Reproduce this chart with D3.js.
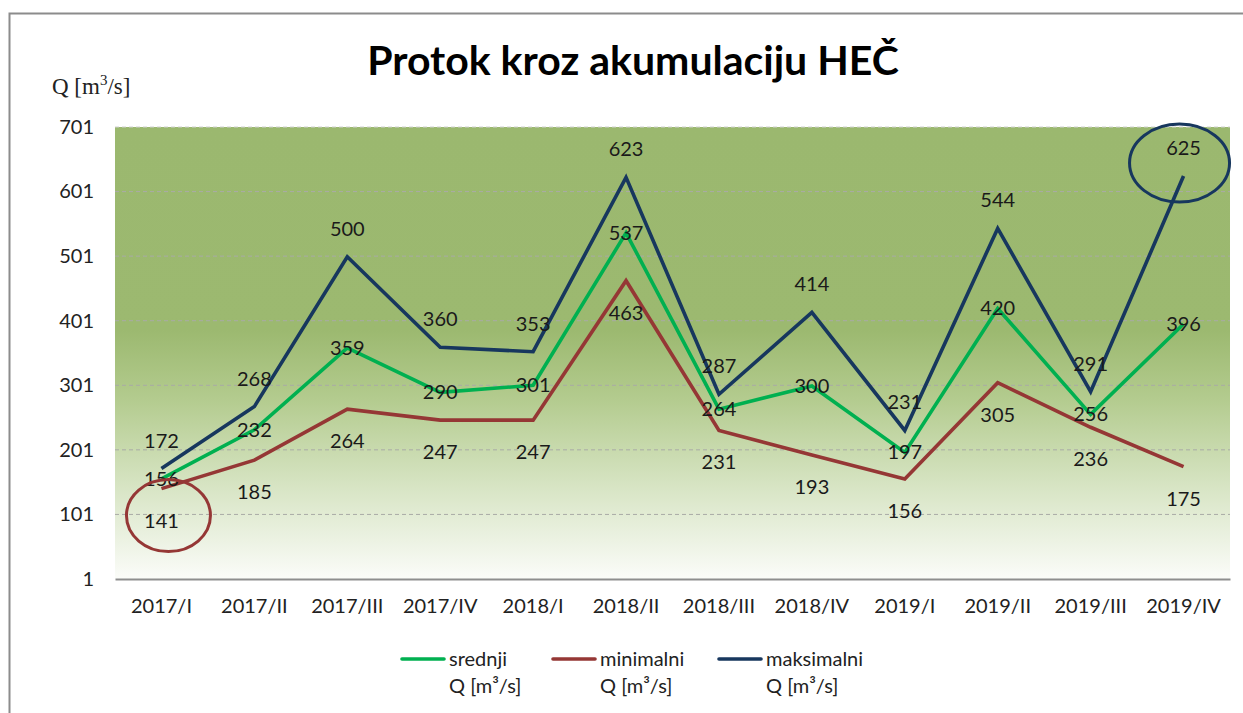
<!DOCTYPE html>
<html><head><meta charset="utf-8">
<script src="https://cdn.jsdelivr.net/npm/d3@7"></script>
<style>
html,body{margin:0;padding:0;background:#fff;}
svg{display:block;}
</style></head>
<body>
<svg id="chart" width="1243" height="713"></svg>
<script>
const categories = ["2017/I","2017/II","2017/III","2017/IV","2018/I","2018/II","2018/III","2018/IV","2019/I","2019/II","2019/III","2019/IV"];
const srednji = [156,232,359,290,301,537,264,300,197,420,256,396];
const minimalni = [141,185,264,247,247,463,231,193,156,305,236,175];
const maksimalni = [172,268,500,360,353,623,287,414,231,544,291,625];
const yTicks = [1,101,201,301,401,501,601,701];
const seriesNames = ["srednji","minimalni","maksimalni"];
const seriesColors = ["#00B050","#953735","#17375E"];

const svg = d3.select("#chart");
const font = "Lato, 'Open Sans', sans-serif";
const margin = {left:115, right:13, top:127, bottom:134};
const W = 1243, H = 713;

// chart border
svg.append("path").attr("d","M9.5,713 L9.5,13.5 L1243,13.5").attr("fill","none").attr("stroke","#8c8c8c").attr("stroke-width",2);

const x = d3.scaleBand().domain(categories).range([margin.left, W - margin.right]);
const y = d3.scaleLinear().domain([1,701]).range([H - margin.bottom, margin.top]);
const y0 = y(1), y1 = y(701);

// gradient background
const defs = svg.append("defs");
const grad = defs.append("linearGradient").attr("id","bg").attr("x1",0).attr("x2",0).attr("y1",0).attr("y2",1);
[[0,"#9BB86F"],[0.45,"#9CB970"],[0.6,"#b3cb8e"],[0.8,"#d8e5c5"],[1,"#fbfcf9"]].forEach(s=>grad.append("stop").attr("offset",s[0]).attr("stop-color",s[1]));
svg.append("rect").attr("x",x.range()[0]).attr("y",y1).attr("width",x.range()[1]-x.range()[0]).attr("height",y0-y1).attr("fill","url(#bg)");

// gridlines
svg.append("g").selectAll("line").data(yTicks.filter(t=>t>1)).join("line")
  .attr("x1",x.range()[0]).attr("x2",x.range()[1]).attr("y1",d=>y(d)).attr("y2",d=>y(d))
  .attr("stroke",d=>d===701?"#d0d0d0":"#a9aaa6").attr("stroke-width",1).attr("stroke-dasharray","4,3");

// y axis
const yAxis = d3.axisLeft(y).tickValues(yTicks).tickSize(0).tickPadding(21);
const gy = svg.append("g").attr("transform",`translate(${x.range()[0]},0)`).call(yAxis);
gy.select(".domain").remove();
gy.selectAll("text").attr("font-family",font).attr("font-size",20).attr("fill","#222");

// x axis
const xAxis = d3.axisBottom(x).tickSize(0).tickPadding(20);
const gx = svg.append("g").attr("transform",`translate(0,${y0})`).call(xAxis);
gx.select(".domain").attr("stroke","#8e8e8e").attr("stroke-width",2);
gx.selectAll("text").attr("font-family",font).attr("font-size",20).attr("fill","#222");

// lines
const allSeries = [srednji, minimalni, maksimalni];
const line = d3.line().x((d,i)=>x(categories[i])+x.bandwidth()/2).y(d=>y(d));
[2,1,0].forEach(k=>{
  svg.append("path").datum(allSeries[k]).attr("d",line).attr("fill","none")
    .attr("stroke",seriesColors[k]).attr("stroke-width",3.6).attr("stroke-linejoin","miter");
});

// data labels
const labelOffsets = [0, 32, -28];
[0,1,2].forEach(k=>{
  svg.append("g").selectAll("text").data(allSeries[k]).join("text")
    .attr("x",(d,i)=>x(categories[i])+x.bandwidth()/2)
    .attr("y",d=>y(d)+labelOffsets[k])
    .attr("dy","0.35em").attr("text-anchor","middle")
    .attr("font-family",font).attr("font-size",20).attr("fill","#1a1a1a")
    .text(d=>d);
});

// annotation ellipses
svg.append("ellipse").attr("cx",x(categories[0])+x.bandwidth()/2+7).attr("cy",y(minimalni[0])+27)
  .attr("rx",42).attr("ry",36).attr("fill","none").attr("stroke","#953735").attr("stroke-width",3);
svg.append("ellipse").attr("cx",x(categories[11])+x.bandwidth()/2-4).attr("cy",y(maksimalni[11])-13)
  .attr("rx",50).attr("ry",39).attr("fill","none").attr("stroke","#17375E").attr("stroke-width",3);

// title
svg.append("text").attr("x",633).attr("y",75).attr("text-anchor","middle")
  .attr("font-family",font).attr("font-weight","bold").attr("font-size",41).attr("fill","#000")
  .text("Protok kroz akumulaciju HEČ");

// y axis title
const yt = svg.append("text").attr("x",52).attr("y",94).attr("font-family","'Liberation Serif', 'DejaVu Serif', serif").attr("font-size",23).attr("fill","#222");
yt.append("tspan").text("Q [m");
yt.append("tspan").attr("font-size",15).attr("dy",-9).text("3");
yt.append("tspan").attr("dy",9).text("/s]");

// legend
const legX = [402, 553, 719];
seriesNames.forEach((n,k)=>{
  const g = svg.append("g").attr("transform",`translate(${legX[k]},659)`);
  g.append("line").attr("x1",0).attr("x2",42).attr("y1",0).attr("y2",0).attr("stroke",seriesColors[k]).attr("stroke-width",3.6).attr("stroke-linecap","round");
  g.append("text").attr("x",47).attr("y",0).attr("dy","0.35em").attr("font-family",font).attr("font-size",20).attr("fill","#222").text(n);
  g.append("text").attr("x",47).attr("y",27).attr("dy","0.35em").attr("font-family",font).attr("font-size",20).attr("fill","#222").text("Q [m³/s]");
});
</script>
</body></html>
